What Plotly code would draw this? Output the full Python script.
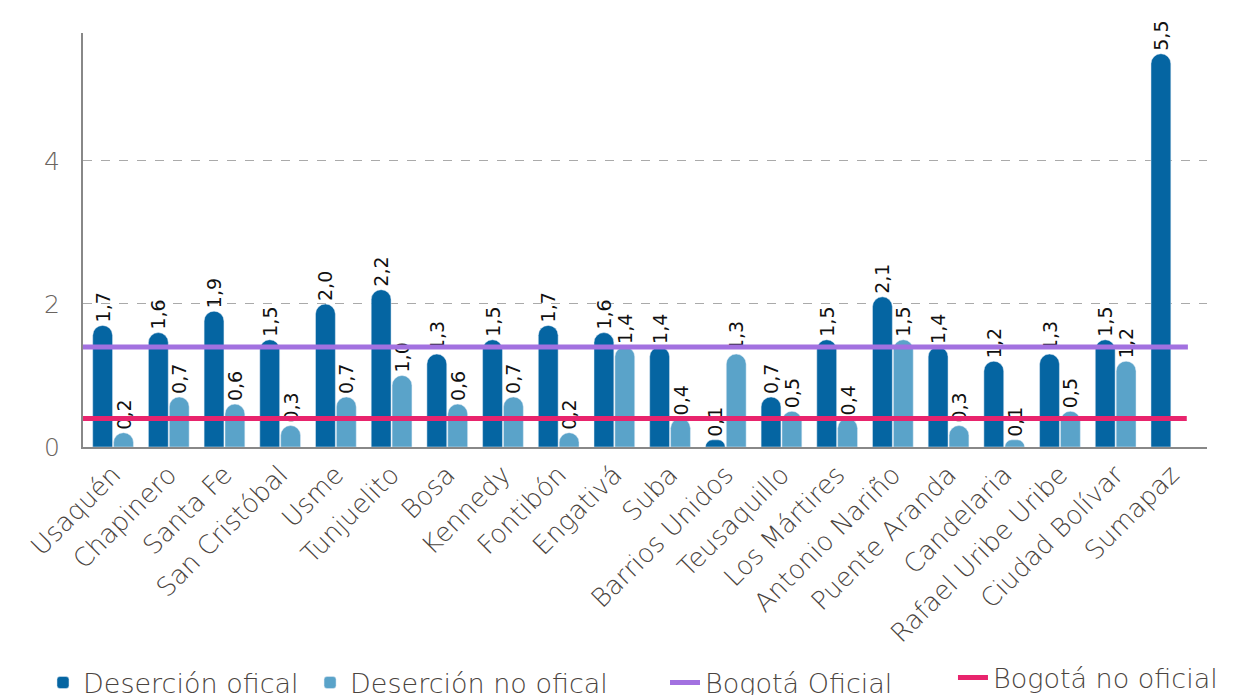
import plotly.graph_objects as go

localidades = ["Usaquén", "Chapinero", "Santa Fe", "San Cristóbal", "Usme", "Tunjuelito",
               "Bosa", "Kennedy", "Fontibón", "Engativá", "Suba", "Barrios Unidos",
               "Teusaquillo", "Los Mártires", "Antonio Nariño", "Puente Aranda",
               "Candelaria", "Rafael Uribe Uribe", "Ciudad Bolívar", "Sumapaz"]
desercion_oficial = [1.7, 1.6, 1.9, 1.5, 2.0, 2.2, 1.3, 1.5, 1.7, 1.6, 1.4, 0.1,
                     0.7, 1.5, 2.1, 1.4, 1.2, 1.3, 1.5, 5.5]
desercion_no_oficial = [0.2, 0.7, 0.6, 0.3, 0.7, 1.0, 0.6, 0.7, 0.2, 1.4, 0.4, 1.3,
                        0.5, 0.4, 1.5, 0.3, 0.1, 0.5, 1.2, None]
bogota_oficial = 1.4
bogota_no_oficial = 0.4
y_ticks = [0, 2, 4]

FONT = "DejaVu Sans"
label_font = dict(family=FONT, size=19, color="#111111")
legend_font = dict(family=FONT, size=27, color="#4a4440", weight=200)

fig = go.Figure()
fig.add_trace(go.Bar(
    x=localidades, y=desercion_oficial, name="Deserción ofical", legend="legend",
    marker=dict(color="#0565a2", cornerradius=10),
    texttemplate="%{y:.1f}", constraintext="none",
    textposition="outside", textangle=-90, textfont=label_font, cliponaxis=False,
))
fig.add_trace(go.Bar(
    x=localidades, y=desercion_no_oficial, name="Deserción no ofical", legend="legend2",
    marker=dict(color="#5aa3c9", cornerradius=10),
    texttemplate="%{y:.1f}", constraintext="none",
    textposition="outside", textangle=-90, textfont=label_font, cliponaxis=False,
))
fig.add_trace(go.Scatter(
    x=[0, 0.983], y=[bogota_oficial] * 2, xaxis="x2", mode="lines", legend="legend3",
    line=dict(color="#a271e0", width=5), name="Bogotá Oficial",
))
fig.add_trace(go.Scatter(
    x=[0, 0.982], y=[bogota_no_oficial] * 2, xaxis="x2", mode="lines", legend="legend4",
    line=dict(color="#e8246d", width=5), name="Bogotá no oficial",
))

def leg(x, y):
    return dict(orientation="h", x=x, y=y, xanchor="left", yanchor="middle",
                font=legend_font, itemwidth=30, bgcolor="rgba(0,0,0,0)")

fig.update_layout(
    width=1245, height=695,
    margin=dict(l=75, r=46, t=25, b=256, autoexpand=False),
    paper_bgcolor="white", plot_bgcolor="white",
    separators=",.",
    barmode="group", bargap=0.25, bargroupgap=0.05,
    font=dict(family=FONT, color="#555555"),
    xaxis=dict(
        type="category", range=[-0.54, 19.64], tickangle=-45, automargin=False,
        tickfont=dict(family=FONT, size=26, color="#4a4440", weight=200),
        showline=True, linecolor="#888888", linewidth=2, showgrid=False,
        ticks="", ticklen=0,
    ),
    xaxis2=dict(range=[0, 1], overlaying="x", visible=False),
    yaxis=dict(
        range=[0, 5.79], tickvals=y_ticks, ticktext=[str(t) for t in y_ticks],
        automargin=False,
        tickfont=dict(family=FONT, size=25, color="#6a6460", weight=200),
        showline=True, linecolor="#888888", linewidth=2,
        showgrid=True, gridcolor="#aaaaaa", griddash="dash", gridwidth=1.3,
        zeroline=False, ticks="", ticklabelstandoff=16,
    ),
    showlegend=True,
    legend=leg(-0.0356, -0.570),
    legend2=leg(0.2020, -0.570),
    legend3=leg(0.5178, -0.570),
    legend4=leg(0.7740, -0.558),
)

fig.write_html("out.html")
